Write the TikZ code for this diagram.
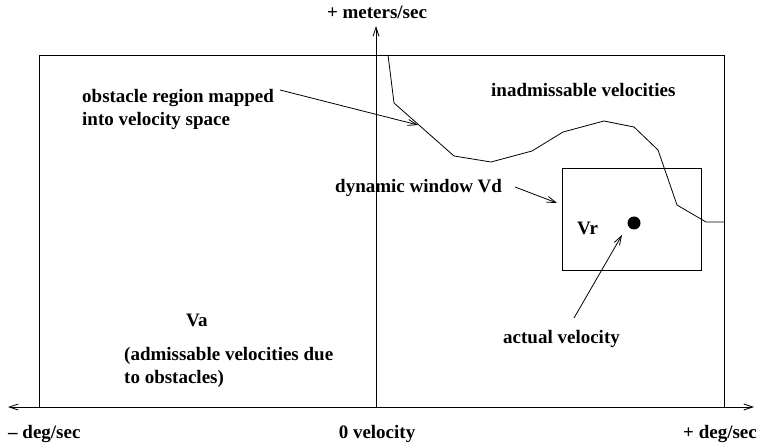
\documentclass[tikz,border=0pt]{standalone}
\usepackage{fontspec}
\setmainfont{Liberation Serif}
\usetikzlibrary{arrows.meta}
\begin{document}
\begin{tikzpicture}[x=1pt,y=-1pt,
  lbl/.style={font=\fontsize{19}{23}\selectfont\bfseries, inner sep=0pt, align=left},
  ln/.style={line width=0.8pt},
  arr/.style={ln, -{Straight Barb[length=9pt,width=6pt]}},
  axarr/.style={ln, {Straight Barb[length=9pt,width=6pt]}-{Straight Barb[length=9pt,width=6pt]}}]
\useasboundingbox (0,0) rectangle (762,446);
% frame
\draw[ln] (376,407) -- (39,407) -- (39,55) -- (724,55) -- (724,407);
% axes
\coordinate (xl) at (8,407);
\coordinate (xr) at (754,407);
\draw[axarr] (xl) -- (xr);
\coordinate (yb) at (376,407);
\coordinate (yt) at (376,26);
\draw[arr] (yb) -- (yt);
% obstacle boundary
\draw[ln] (388,55) -- (394,103) -- (454,156) -- (491,162) -- (532,151) -- (563,132)
  -- (604,121) -- (634,127) -- (658,150) -- (677,205) -- (706,222) -- (724,222);
% dynamic window
\draw[ln] (562,168) rectangle (701,270);
\node[circle, fill=black, minimum size=13pt, inner sep=0pt] (dot) at (634,223) {};
% labels
\node[lbl, anchor=base] (ym) at (377,19) {+ meters/sec};
\node[lbl, anchor=base west] (xm) at (8,438) {– deg/sec};
\node[lbl, anchor=base] (x0) at (377,438) {0 velocity};
\node[lbl, anchor=base east] (xp) at (757,438) {+ deg/sec};
\node[lbl, anchor=base west] (obs) at (82,126) {obstacle region mapped\\into velocity space};
\node[lbl, anchor=base west] (inad) at (491,97) {inadmissable velocities};
\node[lbl, anchor=base west] (dyn) at (335,193) {dynamic window Vd};
\node[lbl, anchor=base west] (vr) at (577,235) {Vr};
\node[lbl, anchor=base west] (act) at (503,343) {actual velocity};
\node[lbl, anchor=base west] (va) at (186,326) {Va};
\node[lbl, anchor=base west] (adm) at (124,383) {(admissable velocities due\\to obstacles)};
% pointers
\coordinate (obsS) at (280,90);
\coordinate (obsE) at (418,125);
\draw[arr] (obsS) -- (obsE);
\coordinate (dynS) at (515,187);
\coordinate (dynE) at (557,203);
\draw[arr] (dynS) -- (dynE);
\coordinate (actS) at (574,318);
\coordinate (actE) at (622,235);
\draw[arr] (actS) -- (actE);
\end{tikzpicture}
\end{document}
